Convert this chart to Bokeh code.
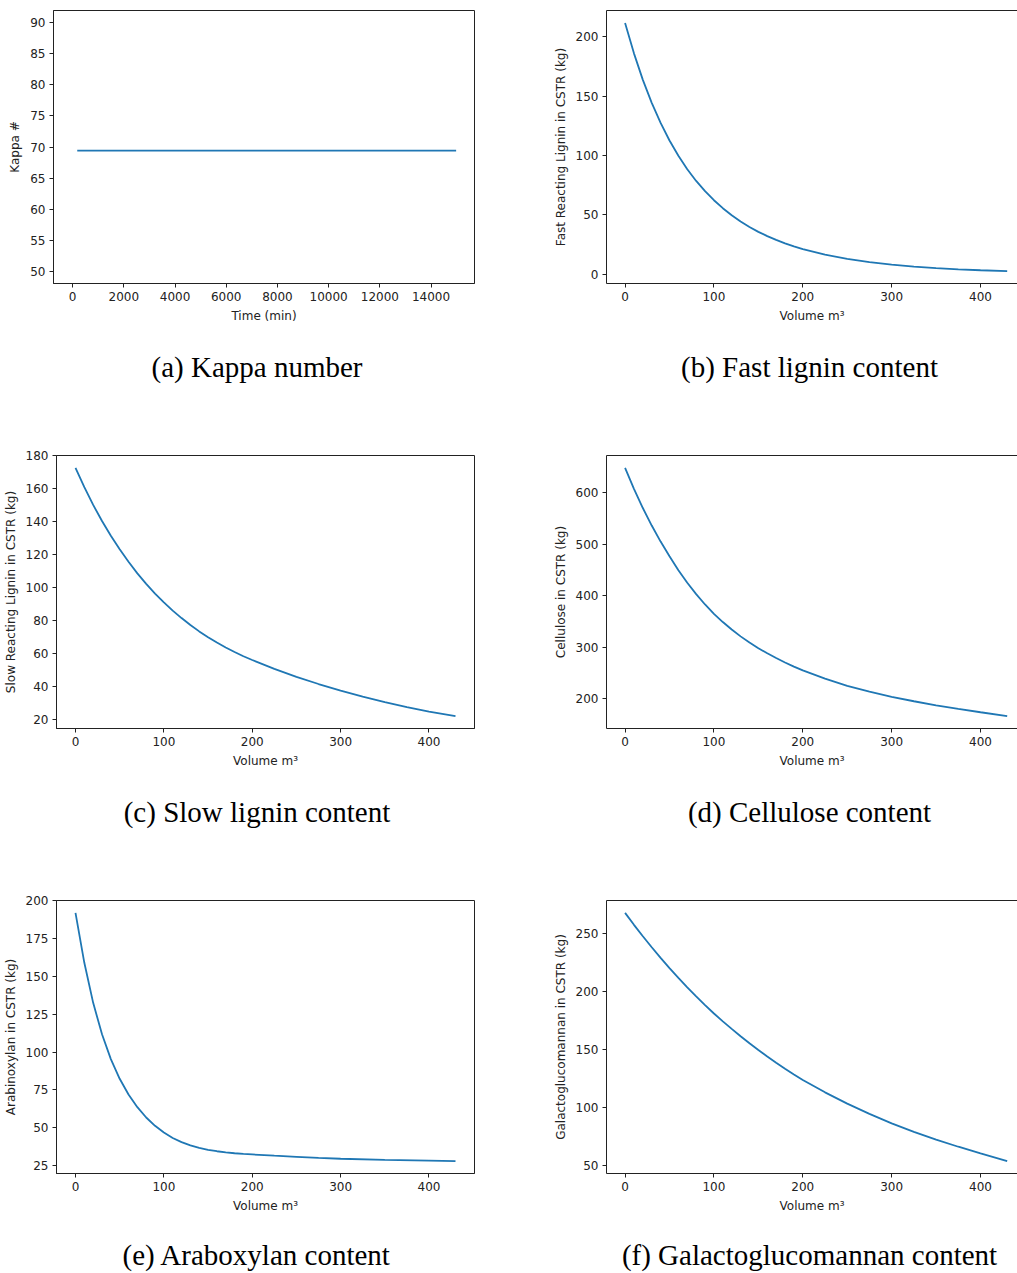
from bokeh.plotting import figure
from bokeh.models import Range1d, FixedTicker, LinearAxis
from bokeh.core.properties import value
from bokeh.layouts import column, row
from bokeh.embed import file_html
from bokeh.resources import INLINE

# ---------------- data ----------------
kappa_time = [180, 14980]
kappa_value = [69.4, 69.4]
kappa_xticks = [0, 2000, 4000, 6000, 8000, 10000, 12000, 14000]
kappa_yticks = [50, 55, 60, 65, 70, 75, 80, 85, 90]

fast_vol = [0, 10, 20, 30, 40, 50, 60, 70, 80, 90, 100, 110, 120, 130, 140, 150, 160, 170,
            180, 190, 200, 225, 250, 275, 300, 325, 350, 375, 400, 430]
fast_lignin = [211.5, 185.9, 163.6, 144.3, 127.4, 112.6, 99.8, 88.5, 78.6, 70.0, 62.4, 55.7,
               49.8, 44.5, 39.9, 35.8, 32.2, 29.0, 26.1, 23.6, 21.3, 16.6, 13.0, 10.3, 8.2,
               6.55, 5.3, 4.3, 3.5, 2.8]
fast_yticks = [0, 50, 100, 150, 200]

slow_vol = [0, 10, 20, 30, 40, 50, 60, 70, 80, 90, 100, 110, 120, 130, 140, 150, 160, 170,
            180, 190, 200, 225, 250, 275, 300, 325, 350, 375, 400, 430]
slow_lignin = [172.7, 161.0, 150.2, 140.4, 131.4, 123.2, 115.6, 108.6, 102.2, 96.3, 90.9,
               85.9, 81.4, 77.2, 73.3, 69.8, 66.5, 63.5, 60.8, 58.2, 55.9, 50.5, 45.7, 41.3,
               37.3, 33.6, 30.3, 27.3, 24.5, 21.8]
slow_yticks = [20, 40, 60, 80, 100, 120, 140, 160, 180]

cell_vol = [0, 10, 20, 30, 40, 50, 60, 70, 80, 90, 100, 110, 120, 130, 140, 150, 160, 170,
            180, 190, 200, 225, 250, 275, 300, 325, 350, 375, 400, 430]
cellulose = [648.7, 607.9, 570.6, 536.5, 505.3, 476.7, 449.6, 425.1, 402.9, 382.8, 364.6,
             348.6, 334.0, 320.7, 308.6, 297.6, 287.7, 278.5, 269.9, 261.9, 254.5, 238.5,
             224.5, 213.2, 203.0, 194.4, 186.5, 179.5, 173.0, 165.5]
cell_yticks = [200, 300, 400, 500, 600]

arab_vol = [0, 10, 20, 30, 40, 50, 60, 70, 80, 90, 100, 110, 120, 130, 140, 150, 160, 170,
            180, 190, 200, 225, 250, 275, 300, 350, 400, 430]
arabinoxylan = [192.1, 159.1, 132.6, 111.8, 95.4, 82.4, 72.0, 63.6, 56.8, 51.3, 46.85, 43.25,
                40.48, 38.35, 36.71, 35.44, 34.47, 33.72, 33.14, 32.7, 32.36, 31.5, 30.8,
                30.1, 29.5, 28.7, 28.2, 27.95]
arab_yticks = [25, 50, 75, 100, 125, 150, 175, 200]

gal_vol = [0, 10, 20, 30, 40, 50, 60, 70, 80, 90, 100, 110, 120, 130, 140, 150, 160, 170,
           180, 190, 200, 225, 250, 275, 300, 325, 350, 375, 400, 430]
galacto = [268.1, 257.8, 247.9, 238.4, 229.2, 220.4, 212.0, 203.8, 196.0, 188.5, 181.2,
           174.4, 167.9, 161.6, 155.5, 149.7, 144.1, 138.7, 133.5, 128.5, 123.7, 113.1,
           103.3, 94.5, 86.3, 78.9, 72.2, 66.1, 60.4, 53.7]
gal_yticks = [50, 100, 150, 200, 250]

vol_xticks = [0, 100, 200, 300, 400]

captions = ["(a) Kappa number", "(b) Fast lignin content", "(c) Slow lignin content",
            "(d) Cellulose content", "(e) Araboxylan content", "(f) Galactoglucomannan content"]

LINE = "#1f77b4"
INK = "#222222"


def auto_range(vals):
    lo, hi = min(vals), max(vals)
    pad = 0.05 * (hi - lo)
    return (lo - pad, hi + pad)


def make(x, y, xr, yr, xticks, yticks, xlabel, ylabel, width, height,
         left, right, bottom, right_col):
    p = figure(width=width, height=height, x_range=Range1d(*xr), y_range=Range1d(*yr),
               output_backend="svg", toolbar_location=None,
               min_border_left=left, min_border_right=right, min_border_top=10,
               min_border_bottom=bottom, background_fill_color="white",
               border_fill_color="white")
    p.line(x, y, line_color=LINE, line_width=1.8)
    p.grid.visible = False
    p.xaxis.ticker = FixedTicker(ticks=xticks)
    p.yaxis.ticker = FixedTicker(ticks=yticks)
    p.xaxis.axis_label = xlabel
    p.yaxis.axis_label = ylabel
    for ax in (p.xaxis, p.yaxis):
        ax.minor_tick_line_color = None
        ax.major_tick_in = 0
        ax.major_tick_out = 4
        ax.major_tick_line_color = INK
        ax.axis_line_color = INK
        ax.major_label_standoff = 4
        ax.axis_label_standoff = 5
        ax.axis_label_text_font_style = "normal"
        ax.axis_label_text_font_size = "12px"
        ax.axis_label_text_font = "DejaVu Sans"
        ax.axis_label_text_color = INK
        ax.major_label_text_font_size = "12px"
        ax.major_label_text_font = "DejaVu Sans"
        ax.major_label_text_color = INK
    if right_col:
        p.outline_line_color = None
        top = LinearAxis(ticker=FixedTicker(ticks=[]), major_label_standoff=0,
                         major_tick_out=0, major_tick_in=0, minor_tick_out=0,
                         minor_tick_in=0, axis_line_color=INK,
                         major_label_text_font_size="0px")
        p.add_layout(top, "above")
    else:
        p.outline_line_color = INK
        p.outline_line_width = 1
    return p


def caption_fig(text, width, height, cx, cy_from_top):
    c = figure(width=width, height=height, x_range=Range1d(0, width), y_range=Range1d(0, height),
               output_backend="svg", toolbar_location=None, x_axis_type=None, y_axis_type=None,
               min_border=0, min_border_left=0, min_border_right=0, min_border_top=0,
               min_border_bottom=0, background_fill_color="white", border_fill_color="white")
    c.outline_line_color = None
    c.grid.visible = False
    c.text(x=[cx], y=[height - cy_from_top], text=[text], text_font=value("Liberation Serif"),
           text_font_size=value("29px"), text_align="center", text_baseline="middle",
           text_color="black")
    return c


LW, RW = 540, 477
PH = 333              # plot figure height
CH12, CH3 = 112, 50   # caption strip heights
CAP_Y12, CAP_Y3 = 33, 31
LCX, RCX = 256.5, 269

pa = make(kappa_time, kappa_value, (-747.5, 15697.5), (48, 92), kappa_xticks, kappa_yticks,
          "Time (min)", "Kappa #", LW, PH, 53, 66, 50, False)
pb = make(fast_vol, fast_lignin, (-20.9, 441.6), auto_range(fast_lignin), vol_xticks, fast_yticks,
          "Volume m³", "Fast Reacting Lignin in CSTR (kg)", RW, PH, 66, 0, 50, True)
pc = make(slow_vol, slow_lignin, (-21.5, 451.5), auto_range(slow_lignin), vol_xticks, slow_yticks,
          "Volume m³", "Slow Reacting Lignin in CSTR (kg)", LW, PH, 53, 66, 50, False)
pd_ = make(cell_vol, cellulose, (-20.9, 441.6), auto_range(cellulose), vol_xticks, cell_yticks,
           "Volume m³", "Cellulose in CSTR (kg)", RW, PH, 66, 0, 50, True)
pe = make(arab_vol, arabinoxylan, (-21.5, 451.5), auto_range(arabinoxylan), vol_xticks, arab_yticks,
          "Volume m³", "Arabinoxylan in CSTR (kg)", LW, PH, 53, 66, 50, False)
pf = make(gal_vol, galacto, (-20.9, 441.6), auto_range(galacto), vol_xticks, gal_yticks,
          "Volume m³", "Galactoglucomannan in CSTR (kg)", RW, PH, 66, 0, 50, True)

ca = caption_fig(captions[0], LW, CH12, LCX, CAP_Y12)
cb = caption_fig(captions[1], RW, CH12, RCX, CAP_Y12)
cc = caption_fig(captions[2], LW, CH12, LCX, CAP_Y12)
cd = caption_fig(captions[3], RW, CH12, RCX, CAP_Y12)
ce = caption_fig(captions[4], LW, CH3, LCX, CAP_Y3)
cf = caption_fig(captions[5], RW, CH3, RCX, CAP_Y3)

layout = column(row(pa, pb), row(ca, cb), row(pc, pd_), row(cc, cd), row(pe, pf), row(ce, cf))
open("out.html", "w").write(file_html(layout, INLINE))
